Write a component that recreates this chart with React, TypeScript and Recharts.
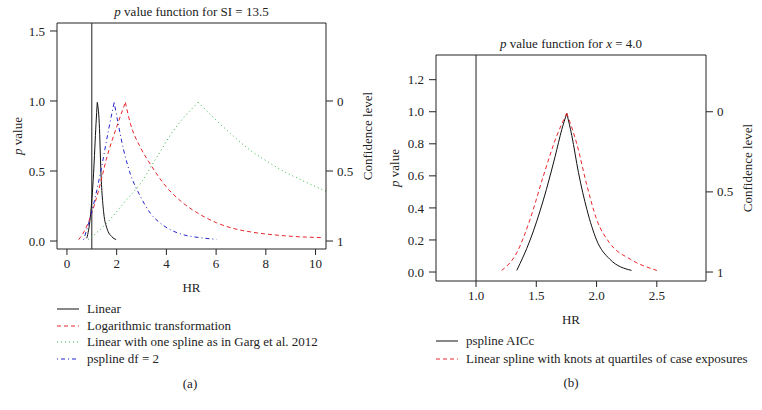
import { LineChart, Line, XAxis, YAxis, ReferenceLine, Label } from "recharts";

const FONT = "'Liberation Serif', 'Times New Roman', serif";
const INK = "#222";

// panel (a): p value function for SI = 13.5
const linearHR = [0.8, 0.94, 1.07, 1.17, 1.22, 1.3, 1.37, 1.48, 1.61, 1.81, 1.98];
const linearP = [0.02, 0.17, 0.48, 0.84, 0.99, 0.84, 0.48, 0.2, 0.09, 0.03, 0.01];

const logHR = [0.47, 0.7, 0.94, 1.27, 1.61, 2.01, 2.35, 2.55, 2.95, 3.35, 3.89, 4.68, 5.35, 6.02, 6.69, 7.36, 8.7, 10.3];
const logP = [0.01, 0.07, 0.17, 0.36, 0.6, 0.82, 0.99, 0.84, 0.67, 0.55, 0.41, 0.27, 0.19, 0.13, 0.09, 0.066, 0.038, 0.024];

const gargHR = [0.85, 1.2, 1.61, 2.28, 2.95, 3.62, 4.29, 5.28, 6.02, 6.69, 7.36, 8.04, 8.7, 9.38, 10.42];
const gargP = [0.01, 0.06, 0.13, 0.27, 0.41, 0.6, 0.79, 0.99, 0.86, 0.75, 0.65, 0.57, 0.5, 0.44, 0.355];

const psplineHR = [0.67, 0.94, 1.34, 1.67, 1.9, 2.08, 2.28, 2.55, 2.95, 3.35, 3.89, 4.68, 5.35, 6.02];
const psplineP = [0.01, 0.17, 0.48, 0.79, 0.99, 0.82, 0.65, 0.48, 0.32, 0.2, 0.11, 0.045, 0.024, 0.012];

// panel (b): p value function for x = 4.0
const aiccHR = [1.338, 1.449, 1.559, 1.656, 1.712, 1.753, 1.795, 1.85, 1.92, 2.0, 2.11, 2.29];
const aiccP = [0.01, 0.2, 0.45, 0.72, 0.89, 0.99, 0.85, 0.62, 0.39, 0.2, 0.08, 0.01];

const quartHR = [1.213, 1.338, 1.449, 1.559, 1.67, 1.753, 1.836, 1.92, 2.0, 2.11, 2.28, 2.5];
const quartP = [0.01, 0.12, 0.33, 0.6, 0.85, 0.99, 0.8, 0.54, 0.33, 0.18, 0.08, 0.01];

const ticksXa = [0, 2, 4, 6, 8, 10];
const ticksYa = [0, 0.5, 1, 1.5];
const ticksXb = [1.0, 1.5, 2.0, 2.5];
const ticksYb = [0, 0.2, 0.4, 0.6, 0.8, 1.0, 1.2];
const confTicks = [0, 0.5, 1];

const zip = (hr: number[], p: number[]) => hr.map((h, i) => ({ hr: h, p: p[i] }));

type Series = { name: string; hr: number[]; p: number[]; color: string; dash?: string };

const seriesA: Series[] = [
  { name: "Linear", hr: linearHR, p: linearP, color: "#111" },
  { name: "Logarithmic transformation", hr: logHR, p: logP, color: "#e8262c", dash: "4 3" },
  { name: "Linear with one spline as in Garg et al. 2012", hr: gargHR, p: gargP, color: "#2cb53a", dash: "1 3" },
  { name: "pspline df = 2", hr: psplineHR, p: psplineP, color: "#2424cc", dash: "1 3 4 3" },
];

const seriesB: Series[] = [
  { name: "pspline AICc", hr: aiccHR, p: aiccP, color: "#111" },
  { name: "Linear spline with knots at quartiles of case exposures", hr: quartHR, p: quartP, color: "#e8262c", dash: "4 3" },
];

// split each curve at its peak so the cusp stays sharp
const halves = (s: Series) => {
  const rows = zip(s.hr, s.p);
  const k = s.p.indexOf(Math.max(...s.p));
  return [rows.slice(0, k + 1), rows.slice(k)];
};

const tickStyle = { fontFamily: FONT, fontSize: 13, fill: INK };

function SideLabel({ viewBox, dx, children }: any) {
  const cx = viewBox.x + dx;
  const cy = viewBox.y + viewBox.height / 2;
  return (
    <text
      x={cx}
      y={cy}
      transform={`rotate(-90 ${cx} ${cy})`}
      textAnchor="middle"
      dominantBaseline="central"
      fontFamily={FONT}
      fontSize={13}
      fill={INK}
    >
      {children}
    </text>
  );
}

function Key({ series, top, gap }: { series: Series[]; top: number; gap: number }) {
  return (
    <div style={{ position: "absolute", left: 0, top }}>
      {series.map((s, i) => (
        <div
          key={s.name}
          style={{ position: "absolute", top: i * gap, left: 0, display: "flex", alignItems: "center", whiteSpace: "nowrap" }}
        >
          <svg width={30} height={14}>
            <line x1={0} x2={22} y1={7} y2={7} stroke={s.color} strokeWidth={1} strokeDasharray={s.dash} />
          </svg>
          <span style={{ fontFamily: FONT, fontSize: 13, color: INK }}>{s.name}</span>
        </div>
      ))}
    </div>
  );
}

function Panel(props: {
  left: number;
  width: number;
  height: number;
  top: number;
  yw: number;
  rw: number;
  xDomain: [number, number];
  yDomain: [number, number];
  xTicks: number[];
  yTicks: number[];
  xFmt: (v: number) => string;
  series: Series[];
  title: React.ReactNode;
  ylabDx: number;
}) {
  const { left, width, height, top, yw, rw, xDomain, yDomain, xTicks, yTicks, xFmt, series } = props;
  return (
    <div style={{ position: "absolute", left, top: 0 }}>
      <div
        style={{
          position: "absolute",
          left: yw,
          width: width - yw - rw,
          top: top - 19,
          textAlign: "center",
          fontFamily: FONT,
          fontSize: 13,
          color: INK,
          whiteSpace: "nowrap",
        }}
      >
        {props.title}
      </div>
      <LineChart width={width} height={height} margin={{ top, right: 0, bottom: 6, left: 0 }}>
        <XAxis
          dataKey="hr"
          type="number"
          domain={xDomain}
          allowDataOverflow
          ticks={xTicks}
          tickFormatter={xFmt}
          tick={tickStyle}
          tickSize={6}
          tickMargin={4}
          stroke={INK}
          height={45}
        >
          <Label value="HR" position="insideBottom" offset={2} style={{ fontFamily: FONT, fontSize: 13, fill: INK }} />
        </XAxis>
        <YAxis
          dataKey="p"
          type="number"
          domain={yDomain}
          allowDataOverflow
          ticks={yTicks}
          tickFormatter={(v: number) => v.toFixed(1)}
          tick={tickStyle}
          tickSize={7}
          tickMargin={5}
          stroke={INK}
          width={yw}
          interval={0}
        >
          <Label
            content={(lp: any) => (
              <SideLabel viewBox={lp.viewBox} dx={props.ylabDx}>
                <tspan fontStyle="italic">p</tspan> value
              </SideLabel>
            )}
          />
        </YAxis>
        <YAxis
          yAxisId="conf"
          orientation="right"
          type="number"
          domain={yDomain}
          allowDataOverflow
          ticks={confTicks.map((c) => 1 - c)}
          tickFormatter={(v: number) => String(+(1 - v).toFixed(1))}
          tick={tickStyle}
          tickSize={7}
          tickMargin={4}
          stroke={INK}
          width={rw}
          interval={0}
        >
          <Label content={(lp: any) => <SideLabel viewBox={lp.viewBox} dx={41}>Confidence level</SideLabel>} />
        </YAxis>
        <ReferenceLine y={yDomain[1]} stroke={INK} strokeWidth={1} />
        <ReferenceLine x={1} stroke={INK} strokeWidth={1} />
        {series.flatMap((s) =>
          halves(s).map((rows, h) => (
            <Line
              key={s.name + h}
              name={s.name}
              data={rows}
              dataKey="p"
              type="monotone"
              stroke={s.color}
              strokeWidth={1}
              strokeDasharray={s.dash}
              dot={false}
              activeDot={false}
              isAnimationActive={false}
            />
          ))
        )}
      </LineChart>
    </div>
  );
}

export default function App() {
  return (
    <div style={{ position: "absolute", left: 0, top: 0, width: 762, height: 410, background: "#fff", overflow: "hidden" }}>
      <Panel
        left={0}
        width={380}
        height={300}
        top={23}
        yw={57}
        rw={54}
        xDomain={[-0.4, 10.42]}
        yDomain={[-0.057, 1.557]}
        xTicks={ticksXa}
        yTicks={ticksYa}
        xFmt={(v) => String(v)}
        series={seriesA}
        ylabDx={17}
        title={
          <>
            <i>p</i> value function for SI = 13.5
          </>
        }
      />
      <div style={{ position: "absolute", left: 57, top: 0 }}>
        <Key series={seriesA} top={301} gap={16.5} />
      </div>
      <div style={{ position: "absolute", left: 0, width: 380, top: 376, textAlign: "center", fontFamily: FONT, fontSize: 13, color: INK }}>
        (a)
      </div>

      <Panel
        left={380}
        width={382}
        height={332}
        top={55}
        yw={56}
        rw={56}
        xDomain={[0.668, 2.908]}
        yDomain={[-0.056, 1.354]}
        xTicks={ticksXb}
        yTicks={ticksYb}
        xFmt={(v) => v.toFixed(1)}
        series={seriesB}
        ylabDx={14}
        title={
          <>
            <i>p</i> value function for <i>x</i> = 4.0
          </>
        }
      />
      <div style={{ position: "absolute", left: 436, top: 0 }}>
        <Key series={seriesB} top={333} gap={17.7} />
      </div>
      <div style={{ position: "absolute", left: 380, width: 382, top: 375, textAlign: "center", fontFamily: FONT, fontSize: 13, color: INK }}>
        (b)
      </div>
    </div>
  );
}
